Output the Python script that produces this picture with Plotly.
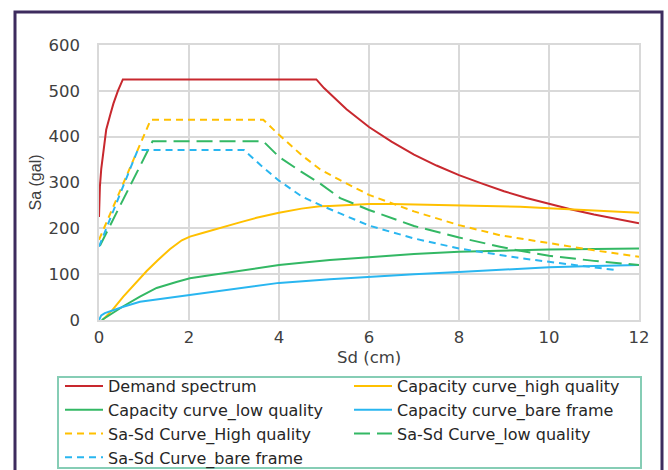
import plotly.graph_objects as go

# Demand spectrum (Sa-Sd format)
demand_sd = [0, 0.02, 0.05, 0.08, 0.12, 0.16, 0.25, 0.32, 0.42, 0.53, 4.83, 5.0, 5.5, 6.0, 6.5,
             7.0, 7.5, 8.0, 8.5, 9.0, 9.5, 10.0, 10.5, 11.0, 11.5, 12.0]
demand_sa = [225, 291, 330, 356, 390, 415, 448, 472, 500, 525, 525, 506, 460, 421, 389,
             361, 337, 316, 298, 281, 266, 253, 241, 230, 220, 211]

# Capacity curves
cap_high_sd = [0.08, 0.3, 0.54, 0.8, 1.06, 1.3, 1.58, 1.84, 2.02, 2.3, 2.61, 2.91, 3.13, 3.5,
               4.0, 4.5, 4.91, 5.13, 5.5, 6.0, 6.5, 7.0, 8.0, 8.91, 9.36, 10.0, 11.0, 12.0]
cap_high_sa = [0, 22, 51, 80, 107, 130, 155, 174, 182, 190, 198, 207, 213, 223,
               234, 243, 248, 249, 251, 253, 253, 252, 251, 249, 247, 244, 239, 234]

cap_low_sd = [0.06, 0.3, 0.54, 0.91, 1.28, 1.72, 2.02, 2.5, 3.0, 3.5, 4.0, 4.5, 5.13, 6.0,
              6.24, 7.0, 8.0, 8.91, 9.36, 10.0, 11.0, 12.0]
cap_low_sa = [0, 15, 30, 51, 70, 83, 91, 98, 105, 113, 120, 125, 131, 137,
              139, 144, 149, 152, 153, 154, 155, 156]

cap_bare_sd = [0, 0.05, 0.13, 0.3, 0.54, 0.91, 1.5, 2.02, 2.5, 3.0, 3.5, 4.0, 5.13, 6.02,
               7.0, 8.0, 8.91, 9.36, 10.0, 11.0, 12.0]
cap_bare_sa = [0, 10, 15, 21, 29, 40, 48, 55, 62, 68, 75, 81, 89, 95,
               100, 105, 110, 112, 115, 118, 120]

# Sa-Sd curves
sasd_high_sd = [0, 1.15, 3.65, 4.0, 4.5, 4.91, 5.36, 6.0, 7.0, 8.0, 8.91, 9.36, 10.0, 11.0, 12.0]
sasd_high_sa = [175, 437, 437, 404, 360, 329, 305, 273, 237, 207, 185, 178, 167, 152, 138]

sasd_low_sd = [0.02, 1.19, 3.65, 4.0, 4.5, 4.91, 5.36, 6.0, 7.0, 8.0, 8.91, 9.36, 10.0, 11.0, 12.0]
sasd_low_sa = [162, 390, 390, 356, 323, 298, 266, 240, 205, 180, 160, 151, 140, 129, 120]

sasd_bare_sd = [0, 0.86, 3.22, 3.6, 4.0, 4.5, 4.91, 5.36, 6.0, 7.0, 8.0, 8.91, 9.36, 10.0, 11.0, 11.47]
sasd_bare_sa = [160, 371, 371, 337, 304, 270, 251, 233, 206, 178, 156, 142, 135, 127, 114, 109]

x_ticks = [0, 2, 4, 6, 8, 10, 12]
y_ticks = [0, 100, 200, 300, 400, 500, 600]

RED = "#C8282E"
YELLOW = "#FFC000"
GREEN = "#33B864"
BLUE = "#29B6F0"
TEXT = "#404040"
GRID = "#D9D9D9"

series = [
    ("Demand spectrum", demand_sd, demand_sa, RED, "solid"),
    ("Capacity curve_high quality", cap_high_sd, cap_high_sa, YELLOW, "solid"),
    ("Capacity curve_low quality", cap_low_sd, cap_low_sa, GREEN, "solid"),
    ("Capacity curve_bare frame", cap_bare_sd, cap_bare_sa, BLUE, "solid"),
    ("Sa-Sd Curve_High quality", sasd_high_sd, sasd_high_sa, YELLOW, "7px,5px"),
    ("Sa-Sd Curve_low quality", sasd_low_sd, sasd_low_sa, GREEN, "16px,7px"),
    ("Sa-Sd Curve_bare frame", sasd_bare_sd, sasd_bare_sa, BLUE, "7px,5px"),
]

fig = go.Figure()
for name, xs, ys, color, dash in series:
    fig.add_trace(go.Scatter(
        x=xs, y=ys, name=name, mode="lines",
        line=dict(color=color, width=2, dash=dash),
    ))

W, H = 668, 470
L, R, T, B = 99, 29, 45, 150
pw, ph = W - L - R, H - T - B


def px_x(p):
    return (p - L) / pw


def px_y(p):
    return (H - B - p) / ph


fig.update_layout(
    width=W, height=H,
    margin=dict(l=L, r=R, t=T, b=B, autoexpand=False),
    paper_bgcolor="white", plot_bgcolor="white",
    font=dict(family="DejaVu Sans", color=TEXT, size=16),
    showlegend=True,
    legend=dict(
        orientation="h",
        x=px_x(60), xanchor="left",
        y=px_y(369), yanchor="top",
        entrywidth=236, entrywidthmode="pixels",
        itemwidth=38,
        font=dict(family="DejaVu Sans", size=16, color="#262626"),
        bgcolor="rgba(0,0,0,0)",
        borderwidth=0,
        traceorder="normal",
    ),
    xaxis=dict(
        range=[0, 12], tickvals=x_ticks, ticktext=[str(v) for v in x_ticks],
        showgrid=True, gridcolor=GRID, gridwidth=1.5,
        zeroline=False, showline=True, mirror=True, linecolor=GRID, linewidth=1.5,
        ticks="", ticklabelstandoff=1,
        tickfont=dict(family="DejaVu Sans", size=16.5, color=TEXT),
    ),
    yaxis=dict(
        range=[0, 600], tickvals=y_ticks, ticktext=[str(v) for v in y_ticks],
        showgrid=True, gridcolor=GRID, gridwidth=1.5,
        zeroline=False, showline=True, mirror=True, linecolor=GRID, linewidth=1.5,
        ticks="", ticklabelstandoff=14,
        tickfont=dict(family="DejaVu Sans", size=16.5, color=TEXT),
    ),
    annotations=[
        dict(text="Sd (cm)", xref="paper", yref="paper", x=0.5, y=px_y(357),
             xanchor="center", yanchor="middle", showarrow=False,
             font=dict(family="DejaVu Sans", size=16.5, color=TEXT)),
        dict(text="Sa (gal)", xref="paper", yref="paper", x=px_x(35), y=0.5,
             xanchor="center", yanchor="middle", showarrow=False, textangle=-90,
             font=dict(family="Liberation Sans", size=16, color=TEXT)),
    ],
    shapes=[
        # outer chart frame
        dict(type="rect", xref="paper", yref="paper",
             x0=px_x(15), x1=px_x(662), y0=px_y(500), y1=px_y(12),
             line=dict(color="#3D2B5E", width=3), fillcolor="rgba(0,0,0,0)", layer="below"),
        # legend box
        dict(type="rect", xref="paper", yref="paper",
             x0=px_x(58), x1=px_x(641), y0=px_y(468), y1=px_y(377),
             line=dict(color="#86CDB5", width=2), fillcolor="rgba(0,0,0,0)", layer="below"),
    ],
)

fig.write_html("out.html")
